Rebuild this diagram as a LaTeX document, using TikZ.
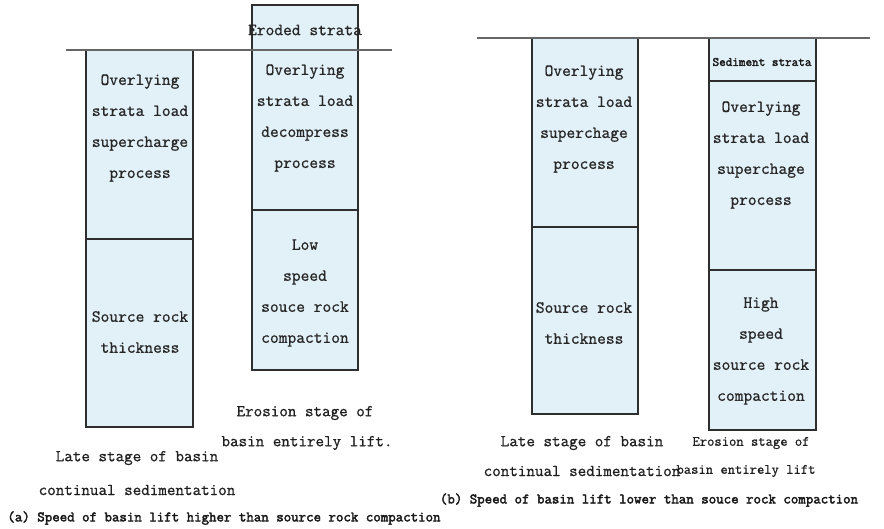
\documentclass[tikz,border=0pt]{standalone}
\usepackage{fontspec}
\newfontfamily\stratafont[FakeBold=0.9]{Latin Modern Mono}
\newfontfamily\stratabold[FakeBold=2.6]{Latin Modern Mono}
\definecolor{stratum}{HTML}{E2F0F8}
\definecolor{inkline}{HTML}{2E2E2E}
\begin{document}
\begin{tikzpicture}[x=1pt,y=-1pt,
  layer/.style={draw=inkline, line width=1.7pt, fill=stratum},
  ground/.style={draw=black!60, line width=1.3pt},
  lbl/.style={font=\stratafont\fontsize{17}{31}\selectfont, align=center, text=black!85, inner sep=0pt},
  small/.style={font=\stratabold\fontsize{12.8}{14}\selectfont, text=black!88, inner sep=0pt},
  stage/.style={font=\stratafont\fontsize{16.6}{18}\selectfont, text=black!88, inner sep=0pt},
  stagesm/.style={font=\stratafont\fontsize{14.2}{16}\selectfont, text=black!88, inner sep=0pt},
  caption/.style={font=\stratabold\fontsize{14.5}{16}\selectfont, text=black!90, inner sep=0pt}]
\useasboundingbox (0,0) rectangle (884,528);

% ---------- (a) basin lift faster than compaction ----------
% continual sedimentation column
\path[layer] (86,50) rectangle (193,239);
\path[layer] (86,239) rectangle (193,427);
% erosion column
\path[layer] (252,5) rectangle (358,50);
\path[layer] (252,50) rectangle (358,210);
\path[layer] (252,210) rectangle (358,370);
% surface
\coordinate (ga1) at (66,50);
\coordinate (ga2) at (392,50);
\draw[ground] (ga1) -- (ga2);

\node[lbl] (a-over) at (140,128) {Overlying\\strata load\\supercharge\\process};
\node[lbl] (a-src) at (140,332) {Source rock\\thickness};
\node[lbl] (a-erod) at (305,30) {Eroded strata};
\node[lbl] (a-dec) at (305,118) {Overlying\\strata load\\decompress\\process};
\node[lbl] (a-low) at (305,293) {Low\\speed\\souce rock\\compaction};
\node[stage] (a-ero1) at (305,413) {Erosion stage of};
\node[stage] (a-ero2) at (307,443) {basin entirely lift.};
\node[stage] (a-late1) at (137,458) {Late stage of basin};
\node[stage] (a-late2) at (137,490) {continual sedimentation};
\node[caption] (a-cap) at (224,518) {(a) Speed of basin lift higher than source rock compaction};

% ---------- (b) basin lift slower than compaction ----------
% continual sedimentation column
\path[layer] (532,38) rectangle (638,227);
\path[layer] (532,227) rectangle (638,414);
% erosion column
\path[layer] (709,38) rectangle (816,81);
\path[layer] (709,81) rectangle (816,270);
\path[layer] (709,270) rectangle (816,430);
% surface
\coordinate (gb1) at (477,38);
\coordinate (gb2) at (870,38);
\draw[ground] (gb1) -- (gb2);

\node[lbl] (b-over) at (584,119) {Overlying\\strata load\\superchage\\process};
\node[lbl] (b-src) at (584,323) {Source rock\\thickness};
\node[small] (b-sed) at (762,62) {Sediment strata};
\node[lbl] (b-sup) at (761,155) {Overlying\\strata load\\superchage\\process};
\node[lbl] (b-high) at (761,351) {High\\speed\\source rock\\compaction};
\node[stage] (b-late1) at (582,443) {Late stage of basin};
\node[stage] (b-late2) at (582,471) {continual sedimentation};
\node[stagesm] (b-ero1) at (751,443) {Erosion stage of};
\node[stagesm] (b-ero2) at (746,471) {basin entirely lift};
\node[caption] (b-cap) at (649,500) {(b) Speed of basin lift lower than souce rock compaction};
\end{tikzpicture}
\end{document}
